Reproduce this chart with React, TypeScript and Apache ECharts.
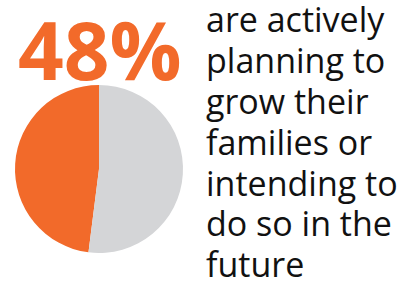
import React, { useEffect, useRef } from "react";
import * as echarts from "echarts";

const sliceNames = ["Planning to grow", "Other"];
const sliceValues = [48, 52];
const sliceColors = ["#f26a2a", "#d4d5d7"];
const headline = "48%";
const caption = [
  "are actively",
  "planning to",
  "grow their",
  "families or",
  "intending to",
  "do so in the",
  "future",
];

export default function App() {
  const ref = useRef<HTMLDivElement>(null);
  useEffect(() => {
    document.body.style.margin = "0";
    const chart = echarts.init(ref.current!, null, { renderer: "svg" });
    chart.setOption({
      animation: false,
      backgroundColor: "#ffffff",
      graphic: [
        {
          type: "text",
          left: 18,
          top: 8,
          style: {
            text: headline,
            fontFamily: "Open Sans",
            fontWeight: "bold",
            fontSize: 80,
            fill: "#f26a2a",
          },
        },
        {
          type: "text",
          left: 206,
          top: -1,
          style: {
            text: caption.join("\n"),
            fontFamily: "Open Sans",
            fontSize: 34,
            lineHeight: 40.8,
            fill: "#111111",
          },
        },
      ],
      series: [
        {
          type: "pie",
          center: [99, 169],
          radius: 84,
          startAngle: 90,
          clockwise: false,
          label: { show: false },
          labelLine: { show: false },
          emphasis: { disabled: true },
          itemStyle: { borderWidth: 0 },
          data: sliceValues.map((v, i) => ({
            name: sliceNames[i],
            value: v,
            itemStyle: { color: sliceColors[i] },
          })),
        },
      ],
    });
    return () => chart.dispose();
  }, []);
  return <div ref={ref} style={{ width: 419, height: 283 }} />;
}
